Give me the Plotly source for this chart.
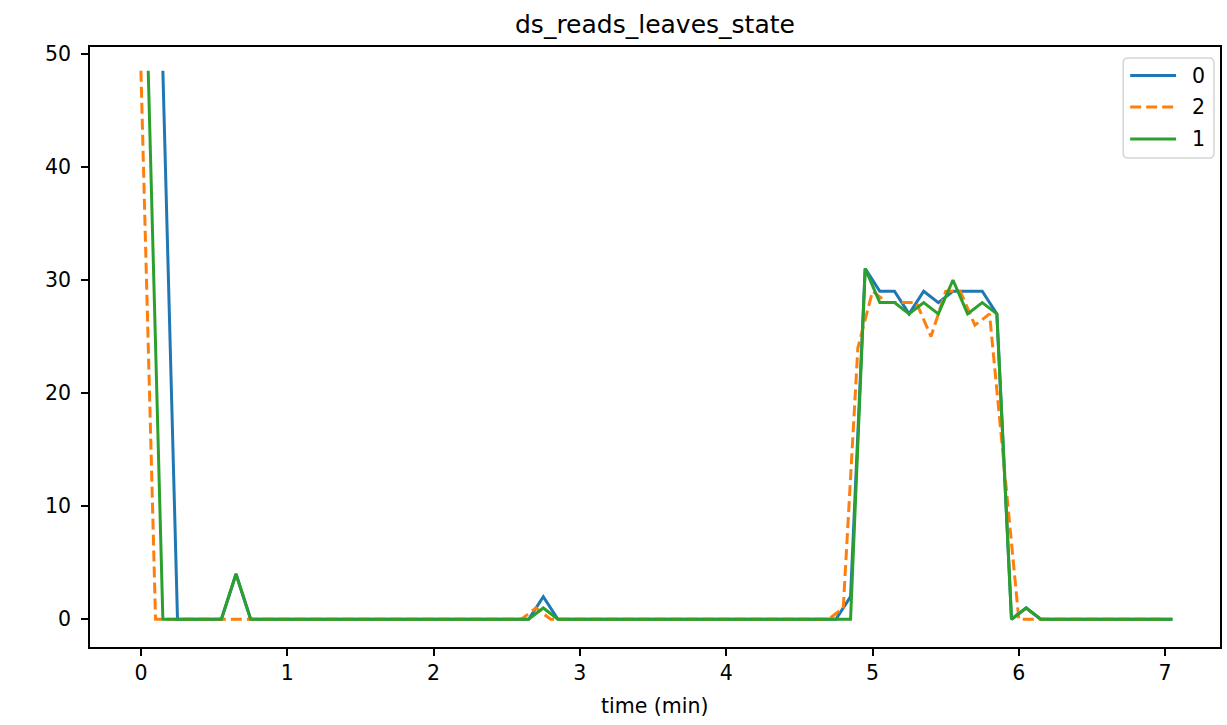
import plotly.graph_objects as go

# ---- data ----
series_names = ["0", "2", "1"]
colors = ["#1f77b4", "#ff7f0e", "#2ca02c"]

t_0 = [0.15, 0.25, 0.35, 0.45, 0.55, 0.65, 0.75, 0.85, 0.95, 1.05,
       1.15, 1.25, 1.35, 1.45, 1.55, 1.65, 1.75, 1.85, 1.95, 2.05,
       2.15, 2.25, 2.35, 2.45, 2.55, 2.65, 2.75, 2.85, 2.95, 3.05,
       3.15, 3.25, 3.35, 3.45, 3.55, 3.65, 3.75, 3.85, 3.95, 4.05,
       4.15, 4.25, 4.35, 4.45, 4.55, 4.65, 4.75, 4.85, 4.95, 5.05,
       5.15, 5.25, 5.35, 5.45, 5.55, 5.65, 5.75, 5.85, 5.95, 6.05,
       6.15, 6.25, 6.35, 6.45, 6.55, 6.65, 6.75, 6.85, 6.95, 7.05]
v_0 = [48.5, 0, 0, 0, 0, 4, 0, 0, 0, 0,
       0, 0, 0, 0, 0, 0, 0, 0, 0, 0,
       0, 0, 0, 0, 0, 0, 2, 0, 0, 0,
       0, 0, 0, 0, 0, 0, 0, 0, 0, 0,
       0, 0, 0, 0, 0, 0, 0, 2, 31, 29,
       29, 27, 29, 28, 29, 29, 29, 27, 0, 1,
       0, 0, 0, 0, 0, 0, 0, 0, 0, 0]

t_2 = [0.0, 0.1, 0.2, 0.3, 0.4, 0.5, 0.6, 0.7, 0.8, 0.9,
       1.0, 1.1, 1.2, 1.3, 1.4, 1.5, 1.6, 1.7, 1.8, 1.9,
       2.0, 2.1, 2.2, 2.3, 2.4, 2.5, 2.6, 2.7, 2.8, 2.9,
       3.0, 3.1, 3.2, 3.3, 3.4, 3.5, 3.6, 3.7, 3.8, 3.9,
       4.0, 4.1, 4.2, 4.3, 4.4, 4.5, 4.6, 4.7, 4.8, 4.9,
       5.0, 5.1, 5.2, 5.3, 5.4, 5.5, 5.6, 5.7, 5.8, 5.9,
       6.0, 6.1, 6.2, 6.3, 6.4, 6.5, 6.6, 6.7, 6.8, 6.9,
       7.0]
v_2 = [48.5, 0, 0, 0, 0, 0, 0, 0, 0, 0,
       0, 0, 0, 0, 0, 0, 0, 0, 0, 0,
       0, 0, 0, 0, 0, 0, 0, 1, 0, 0,
       0, 0, 0, 0, 0, 0, 0, 0, 0, 0,
       0, 0, 0, 0, 0, 0, 0, 0, 1, 24,
       29, 28, 28, 28, 25, 29, 29, 26, 27, 13.5,
       0, 0, 0, 0, 0, 0, 0, 0, 0, 0,
       0]

t_1 = [0.05, 0.15, 0.25, 0.35, 0.45, 0.55, 0.65, 0.75, 0.85, 0.95,
       1.05, 1.15, 1.25, 1.35, 1.45, 1.55, 1.65, 1.75, 1.85, 1.95,
       2.05, 2.15, 2.25, 2.35, 2.45, 2.55, 2.65, 2.75, 2.85, 2.95,
       3.05, 3.15, 3.25, 3.35, 3.45, 3.55, 3.65, 3.75, 3.85, 3.95,
       4.05, 4.15, 4.25, 4.35, 4.45, 4.55, 4.65, 4.75, 4.85, 4.95,
       5.05, 5.15, 5.25, 5.35, 5.45, 5.55, 5.65, 5.75, 5.85, 5.95,
       6.05, 6.15, 6.25, 6.35, 6.45, 6.55, 6.65, 6.75, 6.85, 6.95,
       7.05]
v_1 = [48.5, 0, 0, 0, 0, 0, 4, 0, 0, 0,
       0, 0, 0, 0, 0, 0, 0, 0, 0, 0,
       0, 0, 0, 0, 0, 0, 0, 1, 0, 0,
       0, 0, 0, 0, 0, 0, 0, 0, 0, 0,
       0, 0, 0, 0, 0, 0, 0, 0, 0, 31,
       28, 28, 27, 28, 27, 30, 27, 28, 27, 0,
       1, 0, 0, 0, 0, 0, 0, 0, 0, 0,
       0]

x_ticks = [0, 1, 2, 3, 4, 5, 6, 7]
y_ticks = [0, 10, 20, 30, 40, 50]
title_text = "ds_reads_leaves_state"
x_label = "time (min)"

times = [t_0, t_2, t_1]
values = [v_0, v_2, v_1]
dashes = ["solid", "11px,5px", "solid"]

# ---- layout geometry (pixels) ----
W, H = 1227, 725
PL, PR, PT, PB = 90, 1222, 47, 647
FONT = "DejaVu Sans"


def px(x):
    return (x - PL) / (PR - PL)


def py(y):
    return (PB - y) / (PB - PT)


fig = go.Figure()
for name, c, t, v, d in zip(series_names, colors, times, values, dashes):
    fig.add_trace(go.Scatter(x=t, y=v, mode="lines", name=name, showlegend=False,
                             line=dict(color=c, width=3, dash=d)))

axis_common = dict(showline=True, linecolor="black", linewidth=1.6, mirror=True,
                   ticks="outside", ticklen=7, tickwidth=1.6, tickcolor="black",
                   showgrid=False, zeroline=False,
                   tickfont=dict(family=FONT, size=20.5, color="black"))

# ---- manual matplotlib-like legend ----
shapes = []
annotations = []
lx0, lx1, ly0, ly1, r = 1125, 1216, 58, 158, 5
path = (f"M{px(lx0 + r)},{py(ly0)} L{px(lx1 - r)},{py(ly0)} "
        f"Q{px(lx1)},{py(ly0)} {px(lx1)},{py(ly0 + r)} "
        f"L{px(lx1)},{py(ly1 - r)} Q{px(lx1)},{py(ly1)} {px(lx1 - r)},{py(ly1)} "
        f"L{px(lx0 + r)},{py(ly1)} Q{px(lx0)},{py(ly1)} {px(lx0)},{py(ly1 - r)} "
        f"L{px(lx0)},{py(ly0 + r)} Q{px(lx0)},{py(ly0)} {px(lx0 + r)},{py(ly0)} Z")
shapes.append(dict(type="path", path=path, xref="paper", yref="paper",
                   line=dict(color="#d5d5d5", width=1.5), fillcolor="white",
                   layer="above"))
row_y = [75.5, 107, 139]
for name, c, d, yy in zip(series_names, colors, dashes, row_y):
    shapes.append(dict(type="line", xref="paper", yref="paper",
                       x0=px(1132), x1=px(1178), y0=py(yy), y1=py(yy),
                       line=dict(color=c, width=3, dash=d), layer="above"))
    annotations.append(dict(text=name, xref="paper", yref="paper",
                            x=px(1192), y=py(yy), xanchor="left", yanchor="middle",
                            showarrow=False,
                            font=dict(family=FONT, size=20.5, color="black")))

annotations += [
    dict(text=title_text, xref="paper", yref="paper", x=0.5, y=py(24),
         xanchor="center", yanchor="middle", showarrow=False,
         font=dict(family=FONT, size=25, color="black")),
    dict(text=x_label, xref="paper", yref="paper", x=0.5, y=py(706),
         xanchor="center", yanchor="middle", showarrow=False,
         font=dict(family=FONT, size=20.5, color="black")),
]

fig.update_layout(
    width=W, height=H, autosize=False,
    margin=dict(l=PL, r=W - PR, t=PT, b=H - PB, pad=0),
    paper_bgcolor="white", plot_bgcolor="white",
    font=dict(family=FONT, color="black"),
    showlegend=False,
    xaxis=dict(range=[-0.348, 7.375], tickvals=x_ticks, **axis_common),
    yaxis=dict(range=[-2.45, 50.6], tickvals=y_ticks, ticklabelstandoff=6,
               **axis_common),
    shapes=shapes,
    annotations=annotations,
)

fig.write_html("out.html",
               config={"displayModeBar": False},
               post_script="document.body.style.margin='0px';"
                           "document.body.style.overflow='hidden';")
